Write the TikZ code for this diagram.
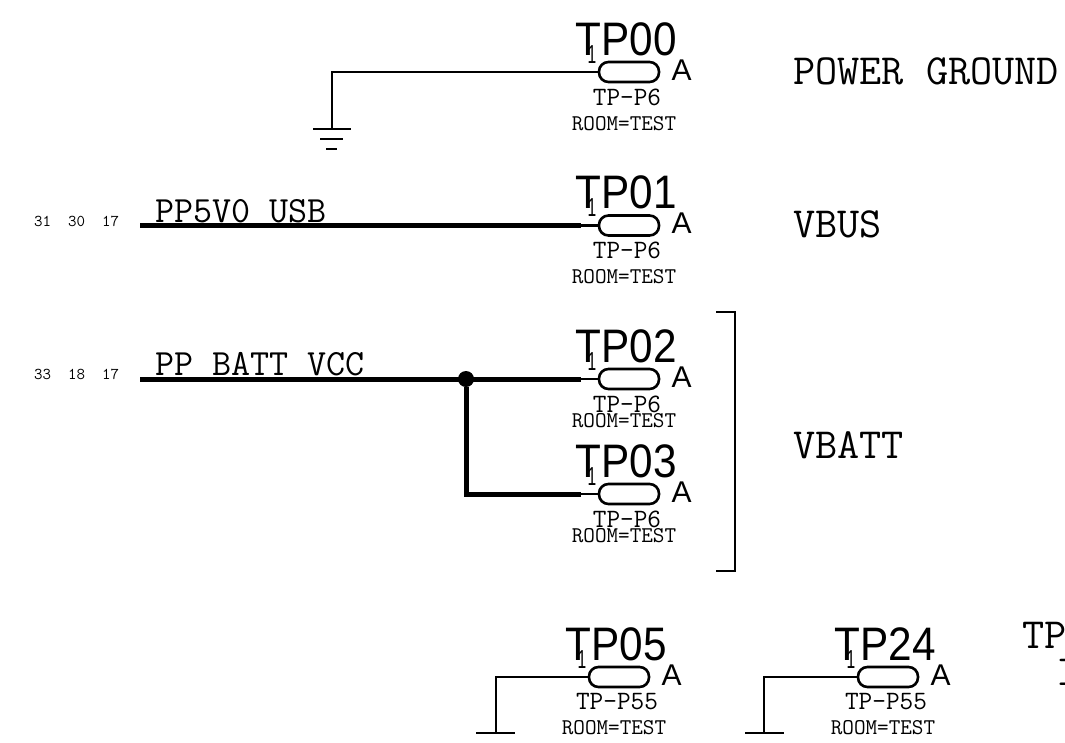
\documentclass[tikz,border=0pt]{standalone}
\usepackage{fontspec}
\setmainfont{Liberation Sans}
\usetikzlibrary{arrows.meta, positioning}

\begin{document}
\begin{tikzpicture}[
      x=1pt, y=-1pt,
      pill/.style={rectangle, draw, line width=2.6pt, minimum width=60pt, minimum height=20pt, rounded corners=9.5pt, inner sep=0pt},
      refdes/.style={inner sep=0pt, anchor=base, xscale=0.9, font=\fontsize{47}{47}\selectfont},
      pinnum/.style={inner sep=0pt, anchor=base, xscale=0.6, font=\fontsize{26}{26}\selectfont},
      pinname/.style={inner sep=0pt, font=\fontsize{30}{30}\selectfont},
      partname/.style={inner sep=0pt, anchor=base, font=\fontsize{26.5}{26.5}\ttfamily},
      roomname/.style={inner sep=0pt, anchor=base, font=\fontsize{22.5}{22.5}\ttfamily},
      netname/.style={inner sep=0pt, anchor=base west, font=\fontsize{37}{37}\ttfamily},
      pageref/.style={inner sep=0pt, anchor=base west, font=\fontsize{16.5}{16.5}\ttfamily},
      railname/.style={inner sep=0pt, anchor=base west, font=\fontsize{43}{43}\ttfamily},
      wire/.style={line width=2.6pt},
      bus/.style={line width=5pt},
      dot/.style={circle, fill=black, minimum size=16pt, inner sep=0pt}
    ]
    \useasboundingbox (0,0) rectangle (1065,742);

    % Test points
    \foreach \tpname/\tpx/\tpy/\tppart/\partdy/\roomdy in {
        TP00/629/72/TP-P6/33/58, TP01/629/225.5/TP-P6/33/58,
        TP02/629/379/TP-P6/33/48, TP03/629/494/TP-P6/33/48,
        TP05/619/677/TP-P55/32/57, TP24/888/677/TP-P55/32/57} {
      \node[pill] (\tpname) at (\tpx,\tpy) {};
      \node[refdes] (\tpname ref) at (\tpx-3,\tpy-17) {\tpname};
      \node[pinnum] (\tpname pin) at (\tpx-37,\tpy-9) {1};
      \node[pinname, right=11pt of \tpname.east, yshift=2pt] (\tpname a) {A};
      \node[partname] (\tpname part) at (\tpx-2,\tpy+\partdy) {\tppart};
      \node[roomname] (\tpname room) at (\tpx-5,\tpy+\roomdy) {ROOM=TEST};
    }

    % Nets
    \coordinate (gndtop) at (332,72);
    \coordinate (gnd) at (332,129);
    \draw[wire] (TP00.west) -- (gndtop) -- (gnd);
    \draw[wire] (313,129) -- (351,129);
    \draw[wire] (320,139) -- (343,139);
    \draw[wire] (326,149) -- (337,149);

    \coordinate (usb) at (140,225.5);
    \coordinate (usbend) at (581,225.5);
    \draw[bus] (usb) -- (usbend);
    \draw[wire] (usbend) -- (TP01.west);
    \node[netname] (usbname) at (155,222) {PP5V0 USB};
    \node[pageref] (usbpages) at (34,226) {31\ \ 30\ \ 17};

    \coordinate (batt) at (140,379);
    \coordinate (battend) at (581,379);
    \coordinate (battlow) at (581,494);
    \node[dot] (junction) at (466,379) {};
    \draw[bus] (batt) -- (battend);
    \draw[bus] (junction) |- (battlow);
    \draw[wire] (battend) -- (TP02.west);
    \draw[wire] (battlow) -- (TP03.west);
    \node[netname] (battname) at (155,375) {PP BATT VCC};
    \node[pageref] (battpages) at (34,379) {33\ \ 18\ \ 17};

    \draw[wire] (TP05.west) -- (496,677) -- (496,733);
    \draw[wire] (476,733) -- (515,733);
    \draw[wire] (TP24.west) -- (764,677) -- (764,733);
    \draw[wire] (745,733) -- (784,733);

    % Bracket
    \draw[wire] (716,312) -- (735,312) -- (735,571) -- (716,571);

    % Rail names
    \node[railname] (ground) at (793,84) {POWER GROUND};
    \node[railname] (vbus) at (793,237) {VBUS};
    \node[railname] (vbatt) at (793,458) {VBATT};
    \node[railname] (tpother) at (1022,648) {TP};
    \node[railname] (tpsecond) at (1056,685) {I};

    \end{tikzpicture}
\end{document}
